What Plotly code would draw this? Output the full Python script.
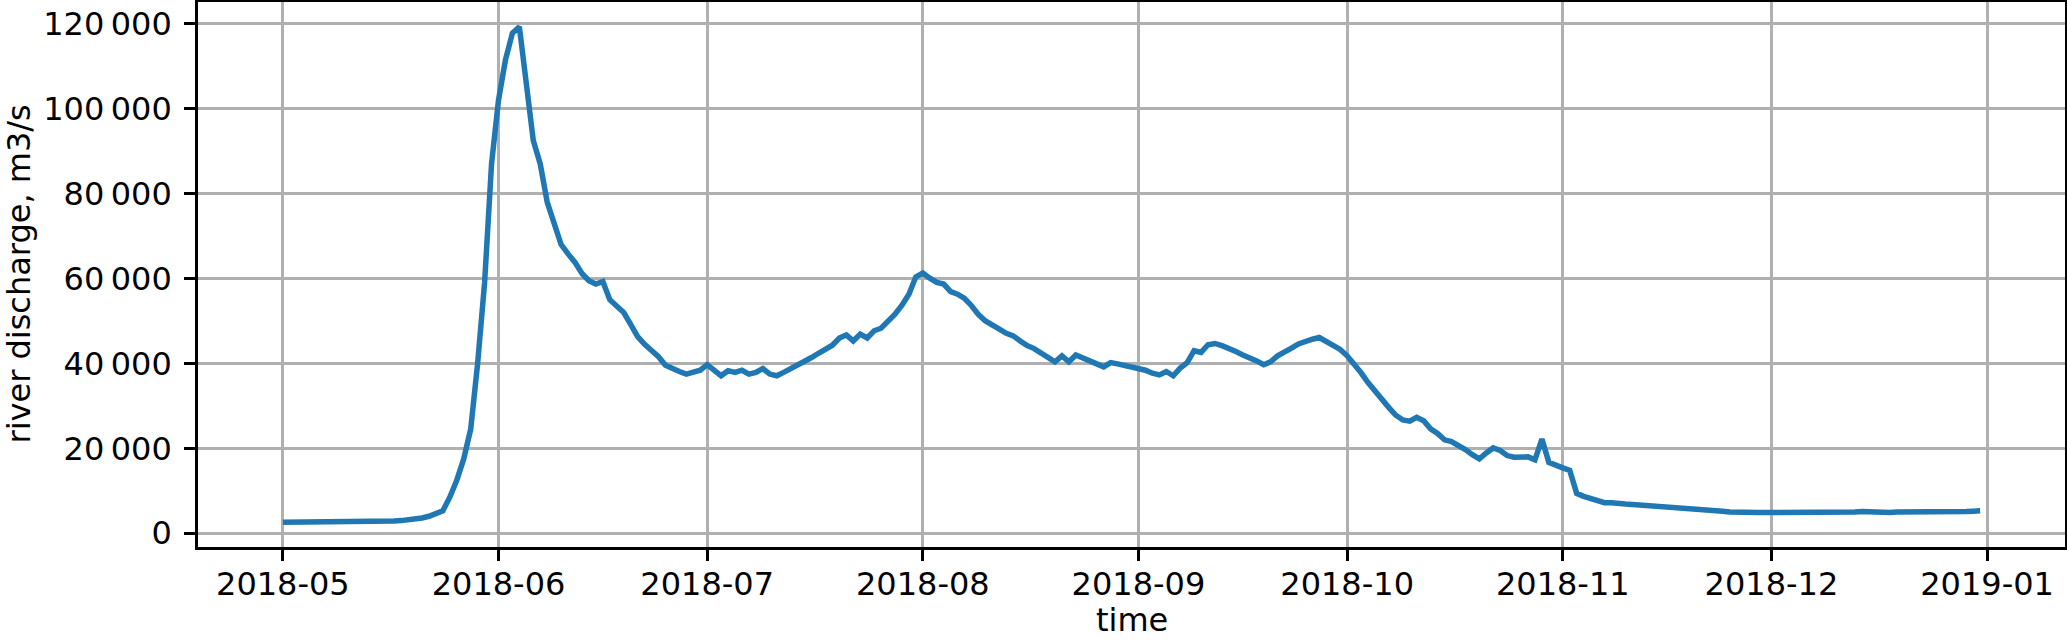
import pandas as pd
import plotly.graph_objects as go


# -------------------------------------------------
# Daily river discharge, m3/s, one list per month
# -------------------------------------------------
may_vals = [2600, 2600, 2620, 2640, 2660, 2680, 2700, 2710, 2730, 2740, 2760,
            2780, 2800, 2830, 2880, 2860, 2900, 2980, 3100, 3300, 3600, 4000,
            4600, 5300, 8500, 12500, 17500, 24500, 40000, 59000, 87000]
jun_vals = [102000, 111500, 117800, 119300, 105000, 92500, 87000, 78000, 73000,
            68000, 65800, 63800, 61200, 59500, 58700, 59300, 55000, 53300,
            52000, 49200, 46300, 44500, 43000, 41600, 39600, 38700, 38100,
            37500, 38000, 38400]
jul_vals = [39700, 38300, 37100, 38300, 37900, 38400, 37500, 37900, 38800,
            37500, 37100, 37900, 38700, 39500, 40400, 41400, 42400, 43200,
            44300, 46000, 46700, 45300, 46900, 46000, 47700, 48300, 49800,
            51600, 53700, 56300, 60400]
aug_vals = [61300, 60100, 59100, 58700, 56900, 56300, 55300, 53600, 51500,
            50000, 48900, 48100, 47100, 46500, 45300, 44200, 43500, 42400,
            41600, 40400, 41800, 40400, 42000, 41400, 40800, 39900, 39200,
            40200, 39900, 39600, 39300]
sep_vals = [38900, 38400, 37700, 37300, 38100, 37100, 38900, 40200, 43000,
            42600, 44400, 44700, 44200, 43600, 42800, 42000, 41400, 40600,
            39700, 40400, 41800, 42600, 43600, 44600, 45300, 45700, 46100,
            45100, 44200, 43300]
oct_vals = [41800, 40000, 37800, 35500, 33400, 31500, 29600, 27800, 26700,
            26400, 27300, 26500, 24600, 23500, 22000, 21600, 20800, 19700,
            18500, 17500, 18900, 20100, 19500, 18300, 17900, 17900, 18000,
            17300, 22200, 16700, 16200]
nov_vals = [15400, 14800, 9400, 8700, 8100, 7500, 7200, 7200, 6900, 6900,
            6800, 6700, 6500, 6300, 6300, 6100, 6100, 6000, 5900, 5800, 5700,
            5600, 5400, 5200, 5000, 4900, 4900, 4900, 4900, 4900]
dec_vals = [4900, 4800, 4700, 4700, 4700, 4700, 4800, 4800, 4900, 4900, 5000,
            5000, 5000, 5100, 5000, 4900, 4900, 4900, 5000, 5000, 4900, 4900,
            4900, 4900, 4800, 4800, 4900, 5000, 5100, 5200, 5300]

discharge = (may_vals + jun_vals + jul_vals + aug_vals + sep_vals
             + oct_vals + nov_vals + dec_vals)
dates = pd.date_range("2018-05-01", "2018-12-31", freq="D")

df = pd.DataFrame({"time": dates, "discharge": discharge})

FONT = "DejaVu Sans"
GRID = "#b0b0b0"

# -------------------------------------------------
# Figure
# -------------------------------------------------
fig = go.Figure()
fig.add_trace(go.Scatter(
    x=df["time"],
    y=df["discharge"],
    mode="lines",
    line=dict(color="#1f77b4", width=5.5),
    showlegend=False,
))

# matplotlib-style 5% margins around the data
t0, t1 = df["time"].min(), df["time"].max()
pad_t = (t1 - t0) * 0.05
v0, v1 = df["discharge"].min(), df["discharge"].max()
pad_v = (v1 - v0) * 0.05

fig.update_layout(
    width=2067,
    height=642,
    margin=dict(l=198, r=2, t=2, b=95, autoexpand=False),
    paper_bgcolor="white",
    plot_bgcolor="white",
    separators=".\u2009",
    font=dict(family=FONT, size=32, color="black"),
)

axis_style = dict(
    ticks="outside",
    ticklen=11,
    tickwidth=2.6,
    tickcolor="black",
    showline=True,
    linecolor="black",
    linewidth=2.6,
    mirror=True,
    showgrid=True,
    gridcolor=GRID,
    gridwidth=2.5,
    zeroline=False,
    automargin=False,
    tickfont=dict(family=FONT, size=32, color="black"),
)

fig.update_xaxes(
    range=[t0 - pad_t, t1 + pad_t],
    tick0="2018-05-01",
    dtick="M1",
    tickformat="%Y-%m",
    ticklabelstandoff=-4,
    **axis_style,
)

fig.update_yaxes(
    range=[v0 - pad_v, v1 + pad_v],
    tick0=0,
    dtick=20000,
    tickformat=",d",
    ticklabelstandoff=6,
    **axis_style,
)

# axis titles placed as annotations for exact positioning
fig.add_annotation(
    text="time", xref="paper", yref="paper",
    x=0.5, y=-0.134, xanchor="center", yanchor="middle",
    showarrow=False, font=dict(family=FONT, size=32, color="black"),
)
fig.add_annotation(
    text="river discharge, m3/s", xref="paper", yref="paper",
    x=-0.0964, y=0.5, xanchor="center", yanchor="middle", textangle=-90,
    showarrow=False, font=dict(family=FONT, size=32, color="black"),
)

# drop the browser's default page margin so the figure sits at the corner
fig.write_html(
    "out.html",
    config={"displayModeBar": False},
    post_script="document.body.style.margin = '0px';",
)
